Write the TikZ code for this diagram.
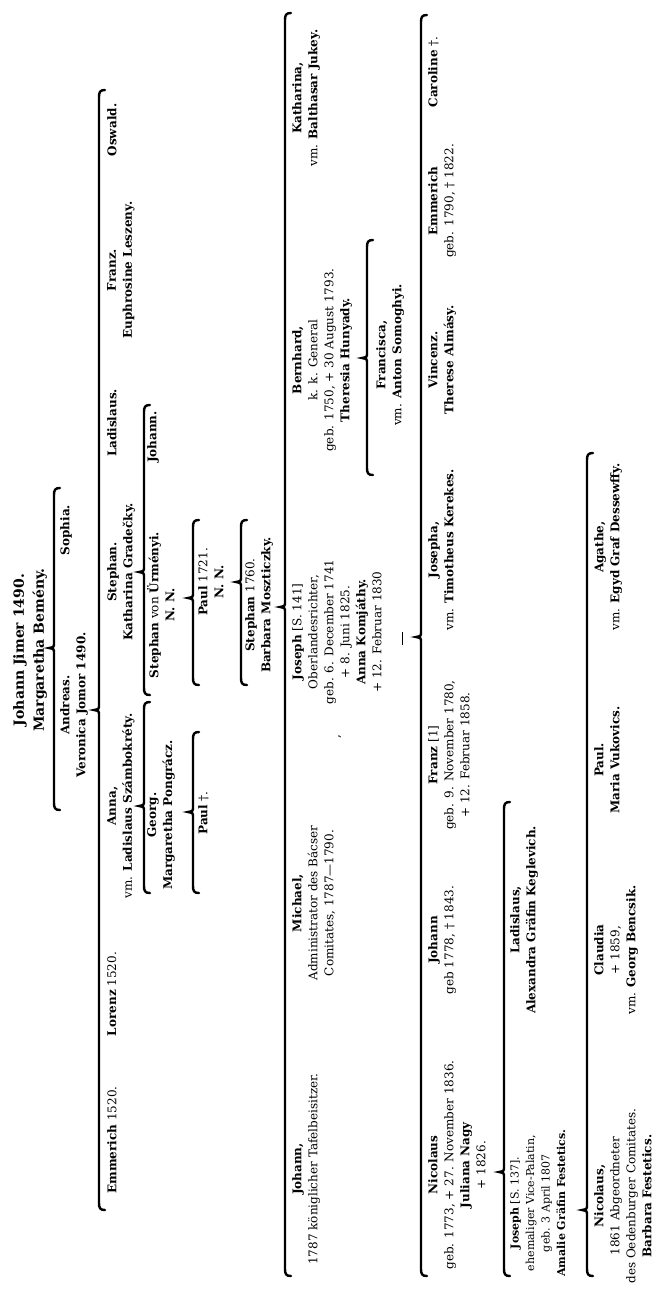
\documentclass[tikz,border=0pt]{standalone}
\usepackage{fontspec}
\setmainfont{DejaVu Serif}
\newcommand{\gbrace}[4]{%
  \draw[gbr] ({#1+6},{#2}) .. controls ({#1+1},{#2}) and ({#1},{#2+2}) .. ({#1},{#2+7})
    -- ({#1},{#4-5}) .. controls ({#1},{#4-1}) .. ({#1-5},{#4})
    .. controls ({#1},{#4+1}) .. ({#1},{#4+5})
    -- ({#1},{#3-7}) .. controls ({#1},{#3-2}) and ({#1+1},{#3}) .. ({#1+6},{#3});}
\tikzset{
  gbr/.style={line width=2.4pt, line cap=round},
  nd/.style={rotate=90, anchor=north, align=center, inner sep=0pt, font=\fontsize{12}{16}\selectfont},
  smallnd/.style={nd, font=\fontsize{11}{15.5}\selectfont},
  rootnd/.style={nd, font=\fontsize{14}{20}\selectfont\bfseries},
}
\begin{document}
\begin{tikzpicture}[x=1pt,y=-1pt]
\fill[white] (0,0) rectangle (667,1293);
\useasboundingbox (0,0) rectangle (667,1293);
% generation 0 and 1
\node[rootnd] (root) at (13,650) {Johann Jimer 1490.\\Margaretha Bemény.};
\gbrace{54}{488}{810}{648}
\node[nd] (andreas) at (60,705) {\textbf{Andreas.}\\\textbf{Veronica Jomor 1490.}};
\node[nd] (sophia) at (60,530) {\textbf{Sophia.}};
\gbrace{99}{90}{1210}{710}
% generation 2
\node[nd] (emm1) at (107,1140) {\textbf{Emmerich} 1520.};
\node[nd] (lor) at (107,994) {\textbf{Lorenz} 1520.};
\node[nd] (anna) at (107,806) {\textbf{Anna,}\\vm. \textbf{Ladislaus Számbokréty.}};
\node[nd] (steph) at (107,572) {\textbf{Stephan.}\\\textbf{Katharina Gradečky.}};
\node[nd] (lad) at (107,423) {\textbf{Ladislaus.}};
\node[nd] (franz) at (107,270) {\textbf{Franz.}\\\textbf{Euphrosine Leszeny.}};
\node[nd] (osw) at (107,130) {\textbf{Oswald.}};
\gbrace{144}{405}{695}{572}
\gbrace{144}{702}{893}{806}
% generation 3
\node[nd] (joh3) at (147,437) {\textbf{Johann.}};
\node[nd] (stu) at (147,605) {\textbf{Stephan} von \textbf{Ürményi.}\\\textbf{N. N.}};
\node[nd] (georg) at (147,815) {\textbf{Georg.}\\\textbf{Margaretha Pongrácz.}};
\gbrace{193}{520}{685}{598}
\gbrace{193}{732}{893}{812}
% generation 4
\node[nd] (paul1721) at (198,582) {\textbf{Paul} 1721.\\\textbf{N. N.}};
\node[nd] (paulx) at (198,813) {\textbf{Paul} †.};
\gbrace{241}{520}{685}{582}
\node[nd] (st1760) at (245,605) {\textbf{Stephan} 1760.\\\textbf{Barbara Moszticzky.}};
\gbrace{285}{13}{1276}{607}
% generation 5
\node[nd] (joh5) at (292,1169) {\textbf{Johann,}\\1787 königlicher Tafelbeisitzer.};
\node[nd] (mich) at (292,903) {\textbf{Michael,}\\Administrator des Bácser\\Comitates, 1787—1790.};
\node[nd] (jos5) at (292,632) {\textbf{Joseph} [S. 141]\\Oberlandesrichter,\\geb. 6. December 1741\\+ 8. Juni 1825.\\\textbf{Anna Komjáthy.}\\+ 12. Februar 1830};
\node[nd] (comma) at (338,737) {,};
\node[nd] (bern) at (292,360) {\textbf{Bernhard,}\\k. k. General\\geb. 1750, + 30 August 1793.\\\textbf{Theresia Hunyady.}};
\node[nd] (kath) at (292,98) {\textbf{Katharina,}\\vm. \textbf{Balthasar Jukey.}};
\gbrace{367}{240}{475}{358}
\node[nd] (fran) at (376,355) {\textbf{Francisca,}\\vm. \textbf{Anton Somoghyi.}};
\coordinate (tk1) at (402,632);
\coordinate (tk2) at (402,645);
\draw[line width=0.8pt] (tk1) -- (tk2);
\gbrace{421}{15}{1276}{637}
% generation 6
\node[nd] (nic6) at (428,1165) {\textbf{Nicolaus}\\geb. 1773, + 27. November 1836.\\\textbf{Juliana Nagy}\\+ 1826.};
\node[nd] (joh6) at (428,940) {\textbf{Johann}\\geb 1778, † 1843.};
\node[nd] (franz6) at (428,755) {\textbf{Franz} [1]\\geb. 9. November 1780,\\+ 12. Februar 1858.};
\node[nd] (josa) at (428,550) {\textbf{Josepha,}\\vm. \textbf{Timotheus Kerekes.}};
\node[nd] (vinc) at (428,360) {\textbf{Vincenz.}\\\textbf{Therese Almásy.}};
\node[nd] (emm6) at (428,201) {\textbf{Emmerich}\\geb. 1790, † 1822.};
\node[nd] (car) at (428,72) {\textbf{Caroline} †.};
\gbrace{504}{802}{1276}{1172}
% generation 7
\node[smallnd] (jos7) at (510,1203) {\textbf{Joseph} [S. 137].\\ehemaliger Vice-Palatin,\\geb. 3 April 1807\\\textbf{Amalie Gräfin Festetics.}};
\node[nd] (lad7) at (510,920) {\textbf{Ladislaus,}\\\textbf{Alexandra Gräfin Keglevich.}};
\gbrace{587}{453}{1276}{1210}
% generation 8
\node[nd] (nic8) at (594,1196) {\textbf{Nicolaus,}\\1861 Abgeordneter\\des Oedenburger Comitates.\\\textbf{Barbara Festetics.}};
\node[nd] (clau) at (594,950) {\textbf{Claudia}\\+ 1859,\\vm. \textbf{Georg Bencsik.}};
\node[nd] (paul8) at (594,760) {\textbf{Paul.}\\\textbf{Maria Vukovics.}};
\node[nd] (agat) at (594,547) {\textbf{Agathe,}\\vm. \textbf{Egyd Graf Dessewffy.}};
\end{tikzpicture}
\end{document}
